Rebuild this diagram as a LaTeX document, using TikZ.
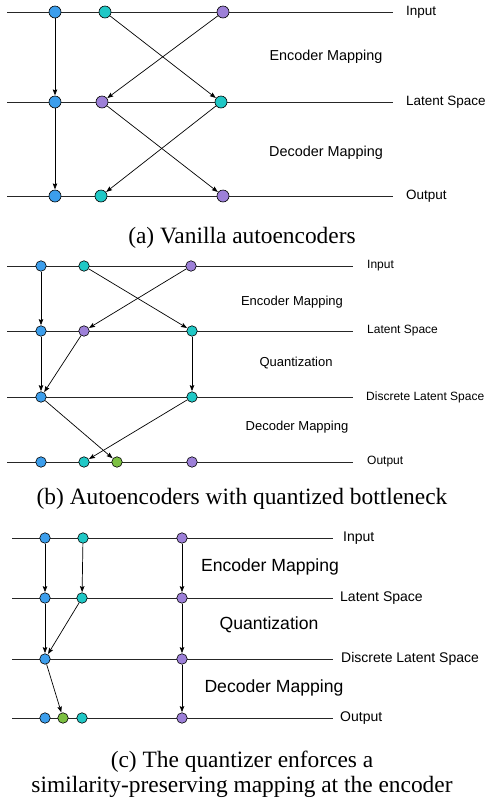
\documentclass[tikz,border=0pt]{standalone}
\usepackage{fontspec}
\setmainfont{Liberation Serif}
\setsansfont{Liberation Sans}
\usetikzlibrary{arrows.meta}
\definecolor{dotblue}{RGB}{60,158,236}
\definecolor{dotteal}{RGB}{32,200,198}
\definecolor{dotpurple}{RGB}{157,128,216}
\definecolor{dotgreen}{RGB}{124,192,66}
\tikzset{
  layer/.style={draw=black!85, line width=0.8pt},
  dot/.style={circle, draw=black, line width=0.6pt, inner sep=0pt, minimum size=#1},
  bl/.style={dot=#1, fill=dotblue},
  tl/.style={dot=#1, fill=dotteal},
  pu/.style={dot=#1, fill=dotpurple},
  gr/.style={dot=#1, fill=dotgreen},
  lab/.style={anchor=west, inner sep=0pt, font=\sffamily\fontsize{#1}{#1}\selectfont},
  maplab/.style={inner sep=0pt, font=\sffamily\fontsize{#1}{#1}\selectfont},
  subcap/.style={anchor=base, inner sep=0pt, font=\fontsize{23.4}{26}\selectfont},
  map/.style={-{Stealth[length=6pt,width=4.5pt,inset=1pt]}, line width=0.7pt, shorten >=0.3pt}
}
\begin{document}
\begin{tikzpicture}[x=1pt,y=-1pt]
  \useasboundingbox (0,0) rectangle (485,804);
  % (a) vanilla autoencoders
  \foreach \y in {12,102,196} \draw[layer] (7,\y) -- (393,\y);
  \node[lab=13.5] (a-in) at (406,12) {Input};
  \node[lab=13.5] (a-lat) at (406,102) {Latent Space};
  \node[lab=13.5] (a-out) at (406,196) {Output};
  \node[maplab=14.4] (a-enc) at (326,57) {Encoder Mapping};
  \node[maplab=14.4] (a-dec) at (326,153) {Decoder Mapping};
  \node[bl=12] (a-i1) at (55,12) {};
  \node[tl=12] (a-i2) at (105,12) {};
  \node[pu=12] (a-i3) at (223,12) {};
  \node[bl=12] (a-l1) at (55,102) {};
  \node[pu=12] (a-l2) at (102,102) {};
  \node[tl=12] (a-l3) at (221,102) {};
  \node[bl=12] (a-o1) at (55,196) {};
  \node[tl=12] (a-o2) at (101,196) {};
  \node[pu=12] (a-o3) at (223,196) {};
  \begin{scope}[map]
    \draw (a-i1) to (a-l1);
    \draw (a-i2) to (a-l3);
    \draw (a-i3) to (a-l2);
    \draw (a-l1) to (a-o1);
    \draw (a-l2) to (a-o3);
    \draw (a-l3) to (a-o2);
  \end{scope}
  \node[subcap] (a-cap) at (242,243) {(a) Vanilla autoencoders};
  % (b) quantized bottleneck
  \foreach \y in {266,331,397,462} \draw[layer] (7,\y) -- (353,\y);
  \node[lab=12] (b-in) at (367,266) {Input};
  \node[lab=12] (b-lat) at (367,331) {Latent Space};
  \node[lab=12] (b-disc) at (366,397) {Discrete Latent Space};
  \node[lab=12] (b-out) at (367,462) {Output};
  \node[maplab=13] (b-enc) at (292,302) {Encoder Mapping};
  \node[maplab=13] (b-quant) at (296,363) {Quantization};
  \node[maplab=13] (b-dec) at (297,427) {Decoder Mapping};
  \node[bl=10.5] (b-i1) at (41,266) {};
  \node[tl=10.5] (b-i2) at (84,266) {};
  \node[pu=10.5] (b-i3) at (191,266) {};
  \node[bl=10.5] (b-l1) at (41,331) {};
  \node[pu=10.5] (b-l2) at (84,331) {};
  \node[tl=10.5] (b-l3) at (192,331) {};
  \node[bl=10.5] (b-d1) at (41,397) {};
  \node[tl=10.5] (b-d2) at (192,397) {};
  \node[bl=10.5] (b-o1) at (41,462) {};
  \node[tl=10.5] (b-o2) at (84,462) {};
  \node[gr=10.5] (b-o3) at (117,462) {};
  \node[pu=10.5] (b-o4) at (192,462) {};
  \begin{scope}[map]
    \draw (b-i1) to (b-l1);
    \draw (b-i2) to (b-l3);
    \draw (b-i3) to (b-l2);
    \draw (b-l1) to (b-d1);
    \draw (b-l2) to (b-d1);
    \draw (b-l3) to (b-d2);
    \draw (b-d1) to (b-o3);
    \draw (b-d2) to (b-o2);
  \end{scope}
  \node[subcap] (b-cap) at (242,504) {(b) Autoencoders with quantized bottleneck};
  % (c) similarity-preserving quantizer
  \foreach \y in {538,598,659,718} \draw[layer] (12,\y) -- (333,\y);
  \node[lab=14] (c-in) at (343,538) {Input};
  \node[lab=14] (c-lat) at (340,598) {Latent Space};
  \node[lab=14] (c-disc) at (341,659) {Discrete Latent Space};
  \node[lab=14] (c-out) at (340,718) {Output};
  \node[maplab=17.6] (c-enc) at (270,567) {Encoder Mapping};
  \node[maplab=17.6] (c-quant) at (269,625) {Quantization};
  \node[maplab=17.6] (c-dec) at (274,688) {Decoder Mapping};
  \node[bl=10.5] (c-i1) at (45,538) {};
  \node[tl=10.5] (c-i2) at (83,538) {};
  \node[pu=10.5] (c-i3) at (182,538) {};
  \node[bl=10.5] (c-l1) at (45,598) {};
  \node[tl=10.5] (c-l2) at (82,598) {};
  \node[pu=10.5] (c-l3) at (182,598) {};
  \node[bl=10.5] (c-d1) at (45,659) {};
  \node[pu=10.5] (c-d2) at (182,659) {};
  \node[bl=10.5] (c-o1) at (45,718) {};
  \node[gr=10.5] (c-o2) at (63,718) {};
  \node[tl=10.5] (c-o3) at (82,718) {};
  \node[pu=10.5] (c-o4) at (182,718) {};
  \begin{scope}[map]
    \draw (c-i1) to (c-l1);
    \draw (c-i2) to (c-l2);
    \draw (c-i3) to (c-l3);
    \draw (c-l1) to (c-d1);
    \draw (c-l2) to (c-d1);
    \draw (c-l3) to (c-d2);
    \draw (c-d1) to (c-o2);
    \draw (c-d2) to (c-o4);
  \end{scope}
  \node[subcap] (c-cap1) at (242,767) {(c) The quantizer enforces a};
  \node[subcap] (c-cap2) at (242,792) {similarity-preserving mapping at the encoder};
\end{tikzpicture}
\end{document}
